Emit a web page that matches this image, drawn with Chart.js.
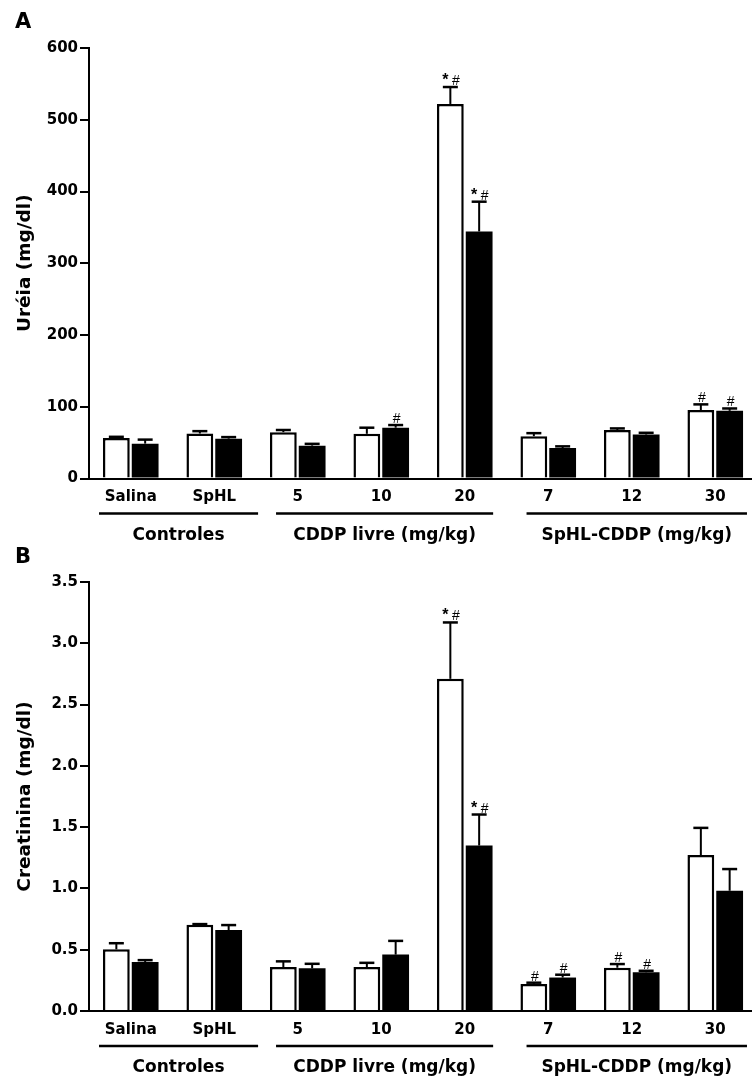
<!DOCTYPE html>
<html lang="pt">
<head>
<meta charset="utf-8">
<title>Uréia e creatinina</title>
<script src="https://cdn.jsdelivr.net/npm/chart.js@4.4.1/dist/chart.umd.min.js"></script>
<style>
    html, body { margin: 0; padding: 0; background: #fff; overflow: hidden; width: 752px; height: 1082px; }
    canvas { position: absolute; left: 0; display: block; }
    #painelA { top: 0; }
    #painelB { top: 540px; }
</style>
</head>
<body>
<canvas id="painelA" width="757" height="550"></canvas>
<canvas id="painelB" width="757" height="542"></canvas>
<script>
'use strict';

// Categorias e grupos do eixo x
const CATEGORIAS = ['Salina', 'SpHL', '5', '10', '20', '7', '12', '30'];
const GRUPOS = ['Controles', 'CDDP livre (mg/kg)', 'SpHL-CDDP (mg/kg)'];

// Painel A - Uréia (mg/dl): barras brancas e pretas, com erro padrão
const UREIA_BRANCO = [56.6, 62.7, 64.6, 62.3, 522, 59, 67.5, 95.3];
const UREIA_BRANCO_ERRO = [1.5, 3.3, 3, 8.5, 23.6, 4.2, 2.3, 8];
const UREIA_PRETO = [48.6, 55.5, 45.8, 70.8, 344.3, 42.5, 61.3, 94.3];
const UREIA_PRETO_ERRO = [5.6, 2.2, 2.5, 3.7, 41.5, 2.3, 2.4, 3.3];
const UREIA_BRANCO_SIG = ['', '', '', '', '*#', '', '', '#'];
const UREIA_PRETO_SIG = ['', '', '', '#', '*#', '', '', '#'];

// Painel B - Creatinina (mg/dl)
const CREAT_BRANCO = [0.503, 0.704, 0.359, 0.359, 2.71, 0.221, 0.353, 1.272];
const CREAT_BRANCO_ERRO = [0.05, 0.005, 0.046, 0.034, 0.46, 0.01, 0.03, 0.222];
const CREAT_PRETO = [0.40, 0.661, 0.348, 0.46, 1.35, 0.273, 0.316, 0.981];
const CREAT_PRETO_ERRO = [0.015, 0.04, 0.037, 0.112, 0.253, 0.023, 0.012, 0.177];
const CREAT_BRANCO_SIG = ['', '', '', '', '*#', '#', '#', ''];
const CREAT_PRETO_SIG = ['', '', '', '', '*#', '#', '#', ''];

// Extensao das linhas de grupo, em unidades de categoria
const EXTENSAO_GRUPO = [[-0.38, 1.525], [1.74, 4.34], [4.74, 7.38]];

const FAMILIA = '"DejaVu Sans", "Liberation Sans", sans-serif';

/**
 * Desenha as barras de erro (so para cima) e os sinais de significancia.
 */
const pluginErros = {
    id: 'barrasErro',
    afterDatasetsDraw(chart) {
        const ctx = chart.ctx;
        const escalaY = chart.scales.y;
        chart.data.datasets.forEach((ds, i) => {
            const meta = chart.getDatasetMeta(i);
            meta.data.forEach((barra, j) => {
                const topo = escalaY.getPixelForValue(ds.data[j] + ds.erros[j]);
                ctx.save();
                ctx.strokeStyle = '#000';
                ctx.fillStyle = '#000';
                ctx.lineWidth = 2;
                ctx.beginPath();
                ctx.moveTo(barra.x, barra.y);
                ctx.lineTo(barra.x, topo);
                ctx.stroke();
                ctx.lineWidth = 2.5;
                ctx.beginPath();
                ctx.moveTo(barra.x - 7.5, topo);
                ctx.lineTo(barra.x + 7.5, topo);
                ctx.stroke();

                const sinal = ds.sinais[j];
                ctx.textBaseline = 'alphabetic';
                ctx.textAlign = 'center';
                if (sinal === '*#') {
                    ctx.font = 'bold 16px "Liberation Sans", Arial, sans-serif';
                    ctx.fillText('*', barra.x - 5, topo - 2);
                    ctx.font = '14px "Liberation Sans", Arial, sans-serif';
                    ctx.fillText('#', barra.x + 5.5, topo - 2);
                } else if (sinal === '#') {
                    ctx.font = '14px "Liberation Sans", Arial, sans-serif';
                    ctx.fillText('#', barra.x + 1, topo - 2);
                }
                ctx.restore();
            });
        });
    }
};

/**
 * Linhas e nomes dos grupos sob o eixo x, e a letra do painel.
 */
const pluginGrupos = {
    id: 'grupos',
    afterDraw(chart, args, opts) {
        const ctx = chart.ctx;
        const escalaX = chart.scales.x;
        const base = chart.chartArea.bottom;
        ctx.save();
        ctx.fillStyle = '#000';
        ctx.strokeStyle = '#000';
        ctx.lineWidth = 2.5;
        GRUPOS.forEach((nome, k) => {
            const x1 = escalaX.getPixelForValue(EXTENSAO_GRUPO[k][0]);
            const x2 = escalaX.getPixelForValue(EXTENSAO_GRUPO[k][1]);
            ctx.beginPath();
            ctx.moveTo(x1, base + 35);
            ctx.lineTo(x2, base + 35);
            ctx.stroke();
            ctx.font = 'bold 17px ' + FAMILIA;
            ctx.textAlign = 'center';
            ctx.textBaseline = 'middle';
            ctx.fillText(nome, (x1 + x2) / 2, base + 57);
        });
        ctx.font = 'bold 21px ' + FAMILIA;
        ctx.textAlign = 'left';
        ctx.textBaseline = 'alphabetic';
        ctx.fillText(opts.letra, 15, opts.letraY);
        ctx.restore();
    }
};

function criarPainel(canvasId, cfg) {
    const canvas = document.getElementById(canvasId);
    if (!canvas) return;

    new Chart(canvas, {
        type: 'bar',
        data: {
            labels: CATEGORIAS,
            datasets: [{
                data: cfg.branco,
                erros: cfg.brancoErro,
                sinais: cfg.brancoSig,
                backgroundColor: '#ffffff',
                borderColor: '#000000',
                borderWidth: 2.5
            }, {
                data: cfg.preto,
                erros: cfg.pretoErro,
                sinais: cfg.pretoSig,
                backgroundColor: '#000000',
                borderColor: '#000000',
                borderWidth: 0
            }]
        },
        options: {
            responsive: false,
            animation: false,
            events: [],
            layout: { padding: { top: cfg.topo, left: 0, right: 0, bottom: 0 } },
            datasets: { bar: { categoryPercentage: 0.69, barPercentage: 0.93 } },
            plugins: {
                legend: { display: false },
                tooltip: { enabled: false },
                grupos: { letra: cfg.letra, letraY: cfg.letraY }
            },
            scales: {
                x: {
                    grid: { display: false, drawTicks: false },
                    border: { display: true, color: '#000', width: 2 },
                    ticks: {
                        color: '#000',
                        font: { family: FAMILIA, size: 15, weight: 'bold' },
                        padding: 10,
                        maxRotation: 0,
                        autoSkip: false
                    },
                    afterFit: (escala) => { escala.height = cfg.alturaX; }
                },
                y: {
                    min: 0,
                    max: cfg.maximo,
                    ticks: {
                        stepSize: cfg.passo,
                        color: '#000',
                        padding: 2,
                        font: { family: FAMILIA, size: 15, weight: 'bold' },
                        callback: (v) => Number(v).toFixed(cfg.casas)
                    },
                    grid: {
                        drawOnChartArea: false,
                        drawTicks: true,
                        tickLength: 9,
                        lineWidth: 2,
                        tickWidth: 2,
                        tickColor: '#000',
                        color: '#000'
                    },
                    border: { display: true, color: '#000', width: 2 },
                    title: {
                        display: true,
                        text: cfg.titulo,
                        color: '#000',
                        font: { family: FAMILIA, size: 18.5, weight: 'bold' },
                        padding: { top: 14, bottom: 0 }
                    },
                    afterFit: (escala) => { escala.width = 89; }
                }
            }
        },
        plugins: [pluginErros, pluginGrupos]
    });
}

criarPainel('painelA', {
    letra: 'A', letraY: 28, topo: 48, alturaX: 71.5,
    titulo: 'Uréia (mg/dl)', maximo: 600, passo: 100, casas: 0,
    branco: UREIA_BRANCO, brancoErro: UREIA_BRANCO_ERRO, brancoSig: UREIA_BRANCO_SIG,
    preto: UREIA_PRETO, pretoErro: UREIA_PRETO_ERRO, pretoSig: UREIA_PRETO_SIG
});

criarPainel('painelB', {
    letra: 'B', letraY: 23, topo: 42, alturaX: 71,
    titulo: 'Creatinina (mg/dl)', maximo: 3.5, passo: 0.5, casas: 1,
    branco: CREAT_BRANCO, brancoErro: CREAT_BRANCO_ERRO, brancoSig: CREAT_BRANCO_SIG,
    preto: CREAT_PRETO, pretoErro: CREAT_PRETO_ERRO, pretoSig: CREAT_PRETO_SIG
});
</script>
</body>
</html>
